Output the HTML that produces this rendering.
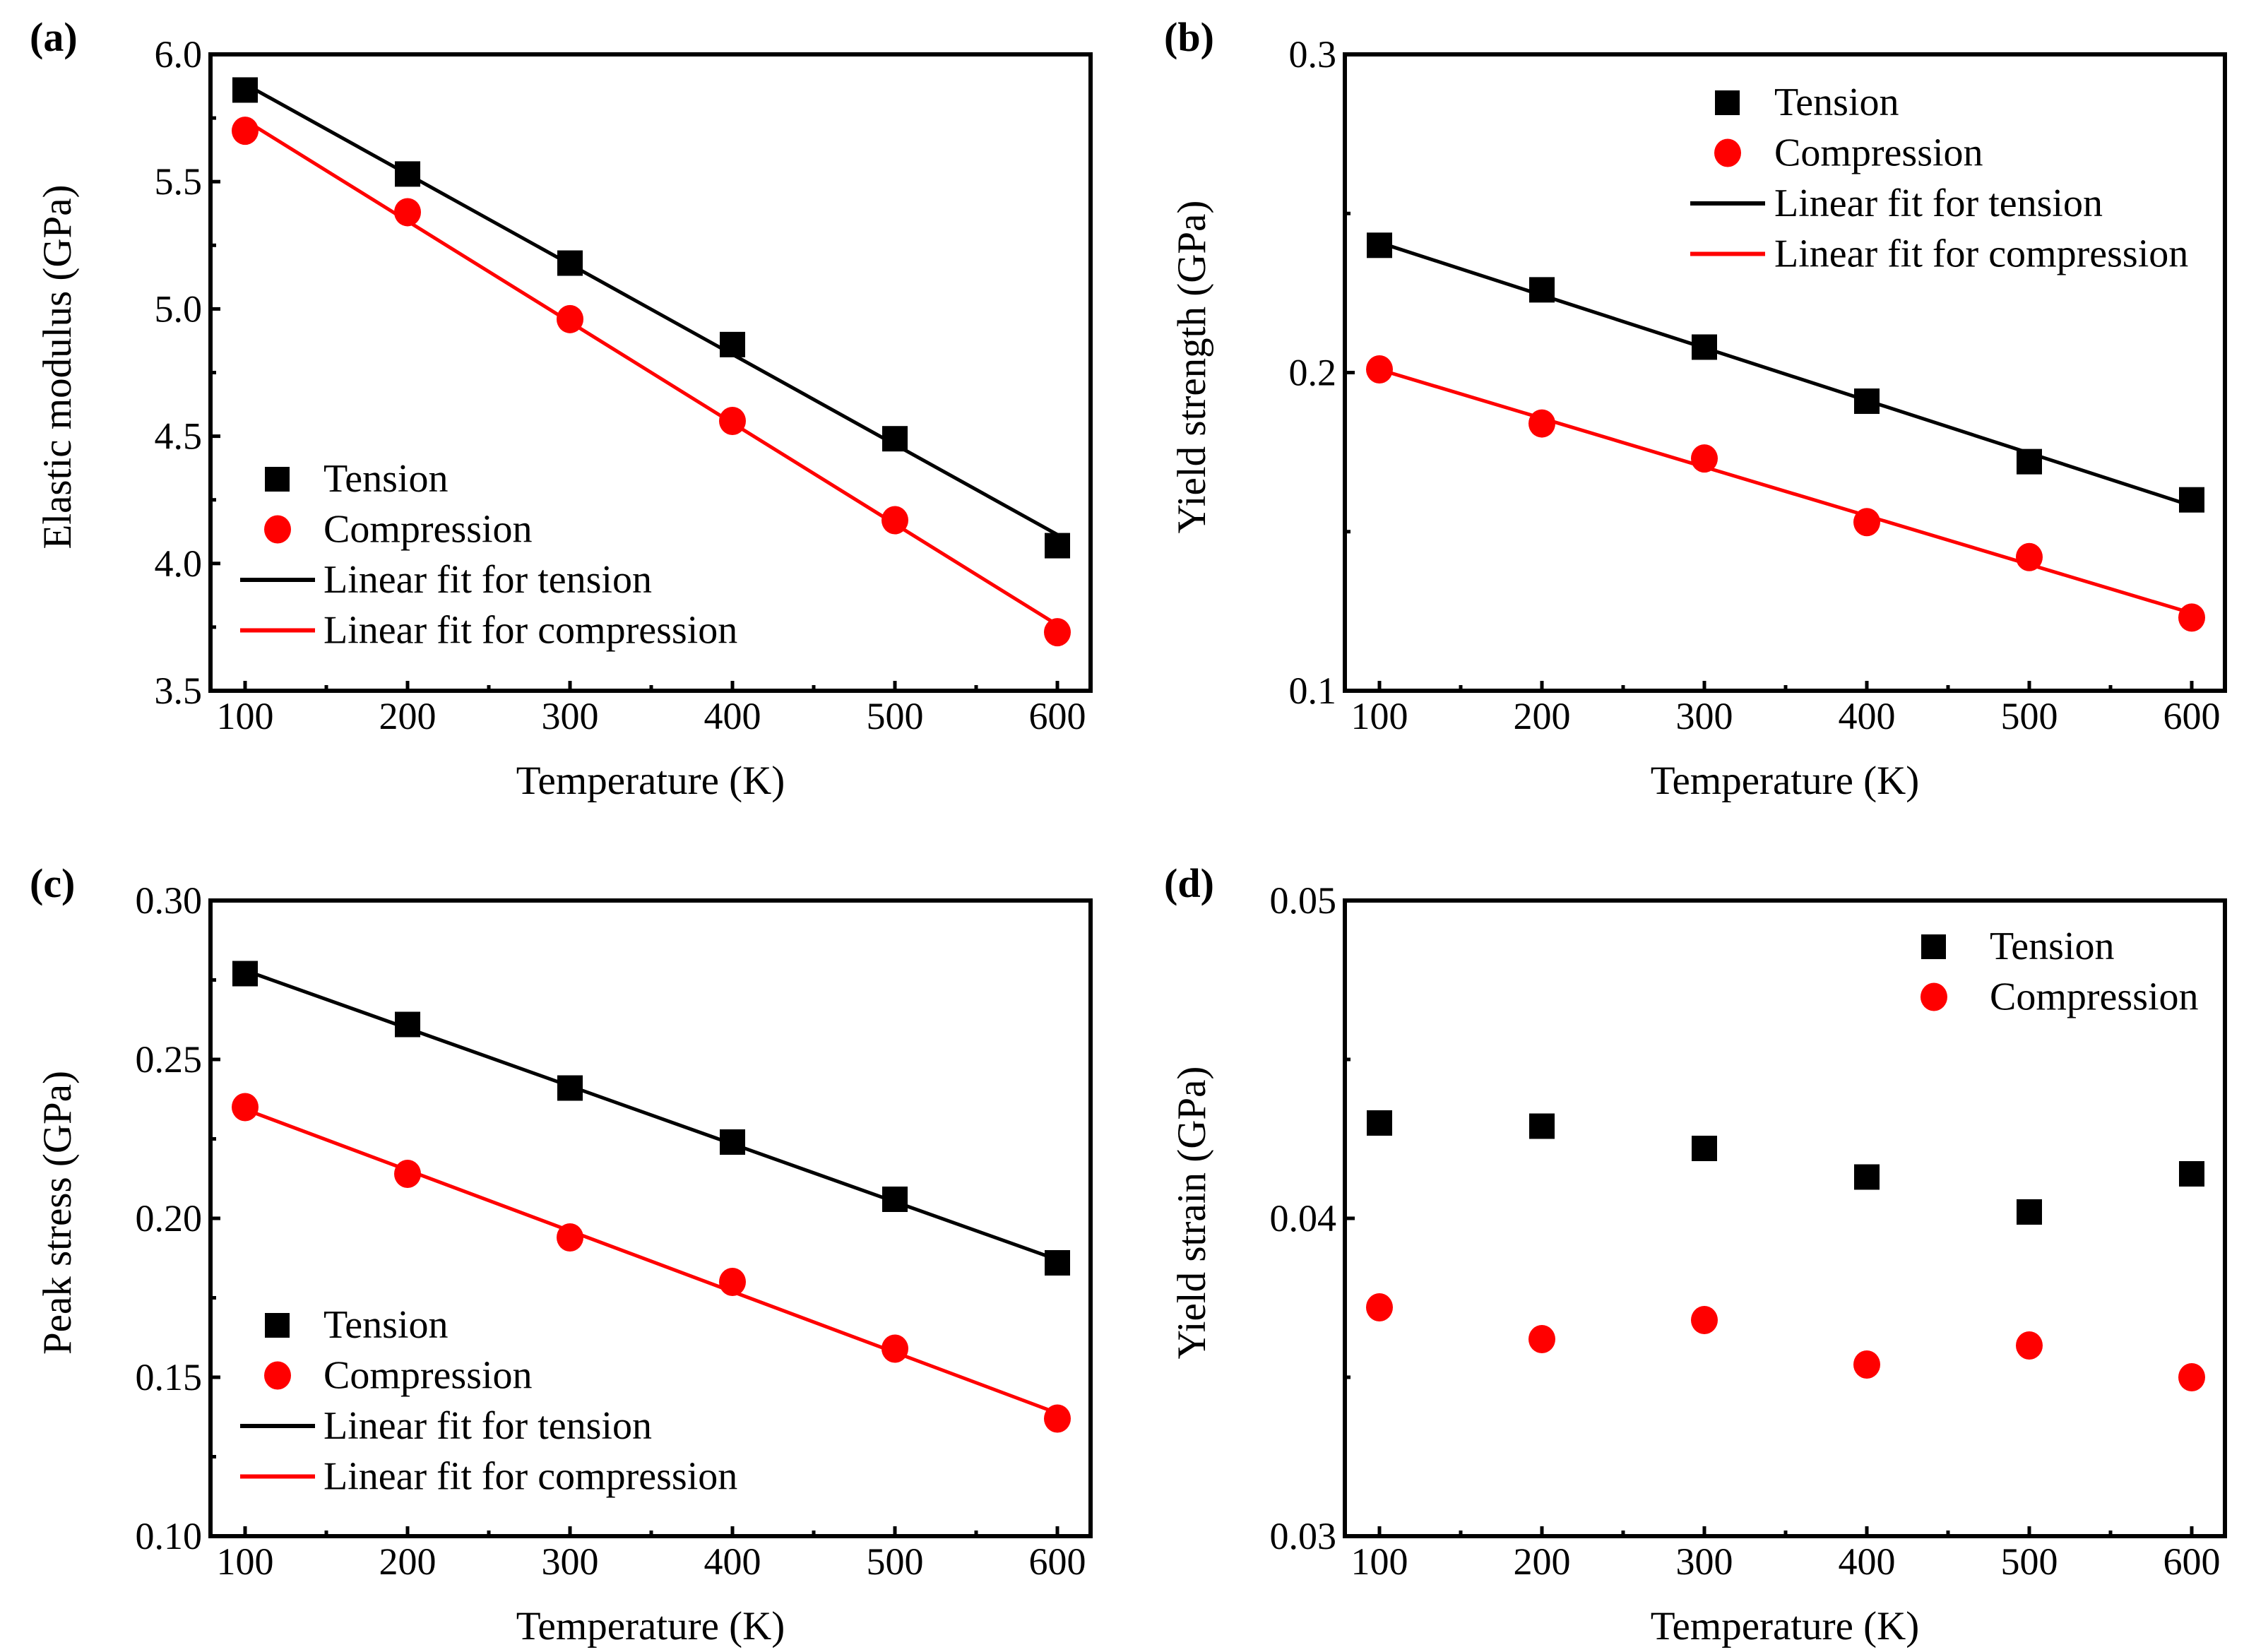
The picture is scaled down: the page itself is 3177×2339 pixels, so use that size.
<!DOCTYPE html>
<html><head><meta charset="utf-8">
<style>
html,body{margin:0;padding:0;background:#fff;}
svg{display:block;}
text{font-family:"Liberation Serif","DejaVu Serif",serif;fill:#000;}
</style></head>
<body>
<svg id="fig" width="3177" height="2339" viewBox="0 0 3177 2339" xmlns="http://www.w3.org/2000/svg"></svg>
<script>
// shared x data
const temps = [100, 200, 300, 400, 500, 600];
const xTicks = [100, 200, 300, 400, 500, 600];
// (a) elastic modulus
const aTension = [5.86, 5.53, 5.18, 4.86, 4.49, 4.07];
const aCompression = [5.70, 5.38, 4.96, 4.56, 4.17, 3.73];
const aTicks = ["3.5", "4.0", "4.5", "5.0", "5.5", "6.0"];
// (b) yield strength
const bTension = [0.240, 0.226, 0.208, 0.191, 0.172, 0.160];
const bCompression = [0.201, 0.184, 0.173, 0.153, 0.142, 0.123];
const bTicks = ["0.1", "0.2", "0.3"];
// (c) peak stress
const cTension = [0.277, 0.261, 0.241, 0.224, 0.206, 0.186];
const cCompression = [0.235, 0.214, 0.194, 0.180, 0.159, 0.137];
const cTicks = ["0.10", "0.15", "0.20", "0.25", "0.30"];
// (d) yield strain
const dTension = [0.0430, 0.0429, 0.0422, 0.0413, 0.0402, 0.0414];
const dCompression = [0.0372, 0.0362, 0.0368, 0.0354, 0.0360, 0.0350];
const dTicks = ["0.03", "0.04", "0.05"];

const NS = "http://www.w3.org/2000/svg";
const svg = document.getElementById("fig");
function mk(tag, attrs, parent) {
  const e = document.createElementNS(NS, tag);
  for (const k in attrs) e.setAttribute(k, attrs[k]);
  (parent || svg).appendChild(e);
  return e;
}
function fit(xs, ys) {
  const n = xs.length;
  const mx = xs.reduce((a, b) => a + b) / n, my = ys.reduce((a, b) => a + b) / n;
  let sxy = 0, sxx = 0;
  for (let i = 0; i < n; i++) { sxy += (xs[i] - mx) * (ys[i] - my); sxx += (xs[i] - mx) ** 2; }
  const m = sxy / sxx; return [m, my - m * mx];
}

function panel(o) {
  const g = mk("g", {});
  
  
  const L = o.left, R = o.left + 1246, T = o.top, B = o.bottom;
  const X = v => o.left + 49 + (v - 100) * 2.3;
  const Y = v => B - (v - o.ymin) / (o.ymax - o.ymin) * (B - T);
  // x ticks
  xTicks.forEach(t => {
    const tk = mk("line", {x1: X(t), x2: X(t), y1: B, y2: B - 14, stroke: "#000", "stroke-width": 5}, g);
    
    
    if (t < 600) {
      const mt = mk("line", {x1: X(t + 50), x2: X(t + 50), y1: B, y2: B - 8, stroke: "#000", "stroke-width": 5}, g);
      
      
    }
    const lb = mk("text", {x: X(t), y: B + 54, "text-anchor": "middle", "font-size": 54}, g);
    lb.textContent = t;
    
    
  });
  // y ticks
  const n = o.yTicks.length;
  o.yTicks.forEach((s, i) => {
    const v = o.ymin + i * (o.ymax - o.ymin) / (n - 1);
    const tk = mk("line", {x1: L, x2: L + 14, y1: Y(v), y2: Y(v), stroke: "#000", "stroke-width": 5}, g);
    
    
    if (i < n - 1) {
      const vm = v + (o.ymax - o.ymin) / (n - 1) / 2;
      const mt = mk("line", {x1: L, x2: L + 8, y1: Y(vm), y2: Y(vm), stroke: "#000", "stroke-width": 5}, g);
      
      
    }
    const lb = mk("text", {x: L - 12, y: Y(v) + 18, "text-anchor": "end", "font-size": 54}, g);
    lb.textContent = s;
    
    
  });
  // frame
  const fr = mk("rect", {x: L, y: T, width: R - L, height: B - T, fill: "none", stroke: "#000", "stroke-width": 6}, g);
  
  
  // fit lines
  if (o.fits) {
    [[o.tension, "#000", "fit-line-tension"], [o.compression, "#ff0000", "fit-line-compression"]].forEach(([ys, c, nm]) => {
      const [m, b] = fit(temps, ys);
      const ln = mk("line", {x1: X(100), y1: Y(m * 100 + b), x2: X(600), y2: Y(m * 600 + b), stroke: c, "stroke-width": 5}, g);
      
      
    });
  }
  // markers
  temps.forEach((t, i) => {
    const sq = mk("rect", {x: X(t) - 18, y: Y(o.tension[i]) - 18, width: 36, height: 36, fill: "#000"}, g);
    
    
    const ci = mk("ellipse", {cx: X(t), cy: Y(o.compression[i]), rx: 19, ry: 20, fill: "#ff0000"}, g);
    
    
  });
  // legend
  const lg = mk("g", {}, g);
  
  
  const items = o.fits ? ["Tension", "Compression", "Linear fit for tension", "Linear fit for compression"] : ["Tension", "Compression"];
  items.forEach((s, i) => {
    const y = o.legY + i * 71.5;
    if (i === 0) mk("rect", {x: o.legX - 18, y: y - 17, width: 35, height: 35, fill: "#000"}, lg);
    if (i === 1) mk("ellipse", {cx: o.legX, cy: y, rx: 19, ry: 20, fill: "#ff0000"}, lg);
    if (i === 2) mk("line", {x1: o.legX - 53, x2: o.legX + 53, y1: y, y2: y, stroke: "#000", "stroke-width": 6}, lg);
    if (i === 3) mk("line", {x1: o.legX - 53, x2: o.legX + 53, y1: y, y2: y, stroke: "#ff0000", "stroke-width": 6}, lg);
    const tx = mk("text", {x: o.legTx, y: y + 18, "font-size": 56}, lg);
    tx.textContent = s;
    
    
  });
  // titles
  const xt = mk("text", {x: (L + R) / 2, y: B + 146, "text-anchor": "middle", "font-size": 57}, g);
  xt.textContent = "Temperature (K)";
  
  
  const yc = (T + B) / 2 - 8;
  const yt = mk("text", {x: o.left - 198, y: yc, "text-anchor": "middle", "font-size": 57, transform: `rotate(-90 ${o.left - 198} ${yc})`}, g);
  yt.textContent = o.ytitle;
  
  
  const pl = mk("text", {x: o.left - 256, y: T - 5, "font-size": 58, "font-weight": "bold"}, g);
  pl.textContent = o.label;
  
  
}

panel({name: "panel-a", label: "(a)", left: 298, top: 77, bottom: 978, ymin: 3.5, ymax: 6.0, yTicks: aTicks,
  tension: aTension, compression: aCompression, fits: true, ytitle: "Elastic modulus (GPa)", legX: 393, legTx: 458, legY: 678});
panel({name: "panel-b", label: "(b)", left: 1904, top: 77, bottom: 978, ymin: 0.1, ymax: 0.3, yTicks: bTicks,
  tension: bTension, compression: bCompression, fits: true, ytitle: "Yield strength (GPa)", legX: 2446, legTx: 2512, legY: 145});
panel({name: "panel-c", label: "(c)", left: 298, top: 1275, bottom: 2175, ymin: 0.10, ymax: 0.30, yTicks: cTicks,
  tension: cTension, compression: cCompression, fits: true, ytitle: "Peak stress (GPa)", legX: 393, legTx: 458, legY: 1876});
panel({name: "panel-d", label: "(d)", left: 1904, top: 1275, bottom: 2175, ymin: 0.03, ymax: 0.05, yTicks: dTicks,
  tension: dTension, compression: dCompression, fits: false, ytitle: "Yield strain (GPa)", legX: 2738, legTx: 2817, legY: 1340});
</script>
</body></html>
